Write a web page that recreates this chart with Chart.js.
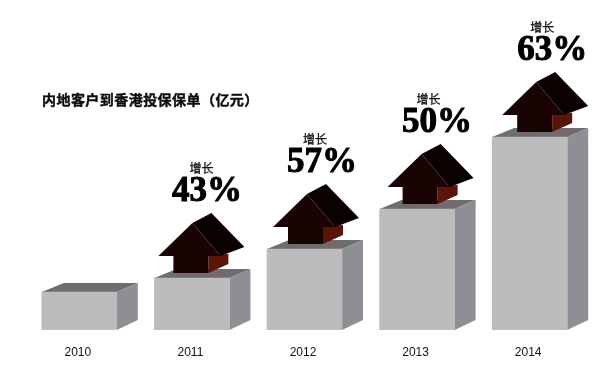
<!DOCTYPE html>
<html>
<head>
<meta charset="utf-8">
<script src="https://cdn.jsdelivr.net/npm/chart.js@4"></script>
<style>
  html, body { margin: 0; background: #fff; }
  canvas { display: block; }
</style>
</head>
<body>
<canvas id="chart" width="600" height="368"></canvas>
<script>
const years = ['2010', '2011', '2012', '2013', '2014'];
const heights = [38, 52, 81, 121, 193];
const growth = [null, '43%', '57%', '50%', '63%'];
const titleText = '内地客户到香港投保保单（亿元）';
const growthWord = '增长';

// offsets are from the front top left corner of a box
let poly = (ctx, color, x, y, pts) => {
    ctx.fillStyle = color;
    ctx.beginPath();
    pts.forEach((p, i) => i ? ctx.lineTo(x + p[0], y + p[1]) : ctx.moveTo(x + p[0], y + p[1]));
    ctx.closePath();
    ctx.fill();
};

let drawHouse = (ctx, x, y) => {
    poly(ctx, '#76686a', x, y, [[19, -4], [56, -4], [72, -9], [72, -2], [12, -1]]);
    poly(ctx, '#5a1408', x, y, [[54, -23], [74, -24], [74, -14], [54, -5]]);
    poly(ctx, '#1a0303', x, y, [[19, -23], [54, -23], [54, -5], [19, -5]]);
    poly(ctx, '#0b0101', x, y, [[38, -55], [57, -65], [90, -31], [66, -22]]);
    poly(ctx, '#1a0303', x, y, [[4, -22], [38, -55], [66, -22], [54, -22]]);
};

const boxPlugin = {
    id: 'boxes',
    beforeDatasetsDraw(chart) {
        const ctx = chart.ctx;
        const bars = chart.getDatasetMeta(0).data;
        const base = chart.scales.y.getPixelForValue(0);
        bars.forEach(bar => {
            const l = bar.x - bar.width / 2;
            const r = bar.x + bar.width / 2;
            poly(ctx, '#6e6e6e', 0, 0, [[l, bar.y], [l + 22, bar.y - 9], [r + 21, bar.y - 9], [r, bar.y]]);
            poly(ctx, '#8e8e95', 0, 0, [[r, bar.y], [r + 21, bar.y - 9], [r + 21, base - 10], [r, base]]);
        });
    },
    afterDatasetsDraw(chart) {
        const ctx = chart.ctx;
        const bars = chart.getDatasetMeta(0).data;
        ctx.save();
        ctx.textBaseline = 'middle';
        ctx.textAlign = 'left';
        ctx.fillStyle = '#0c0c0c';
        ctx.strokeStyle = '#0c0c0c';
        ctx.lineWidth = 0.4;
        ctx.font = 'bold 14px "Noto Sans CJK SC"';
        ctx.letterSpacing = '0.45px';
        ctx.fillText(titleText, 42, 100);
        ctx.strokeText(titleText, 42, 100);
        ctx.letterSpacing = '0px';
        ctx.textAlign = 'center';
        bars.forEach((bar, i) => {
            if (!growth[i]) return;
            const l = bar.x - bar.width / 2;
            drawHouse(ctx, l + 2 * (i - 1), bar.y);
            ctx.fillStyle = '#111';
            ctx.strokeStyle = '#111';
            ctx.lineWidth = 0.3;
            ctx.font = '12px "Noto Sans CJK SC"';
            ctx.fillText(growthWord, l + 46 + i, bar.y - 110);
            ctx.strokeText(growthWord, l + 46 + i, bar.y - 110);
            ctx.fillStyle = '#000';
            ctx.strokeStyle = '#000';
            ctx.lineWidth = 1;
            ctx.font = 'bold 35px "Liberation Serif"';
            ctx.fillText(growth[i], l + 50 + 2.5 * i, bar.y - 86);
            ctx.strokeText(growth[i], l + 50 + 2.5 * i, bar.y - 86);
        });
        ctx.restore();
    }
};

let boxChart = new Chart(document.getElementById('chart').getContext('2d'), {
    type: 'bar',
    data: {
        labels: years,
        datasets: [{
            data: heights,
            backgroundColor: '#bcbcbc',
            barThickness: 75,
        }]
    },
    options: {
        responsive: false,
        animation: false,
        layout: { padding: { left: 23, right: 14, top: 0, bottom: 0 } },
        plugins: {
            legend: { display: false },
            title: { display: false },
            tooltip: { enabled: false }
        },
        scales: {
            y: { display: false, min: 0, max: 330 },
            x: {
                afterFit: scale => { scale.height = 38; },
                grid: { display: false },
                border: { display: false },
                ticks: {
                    color: '#111',
                    padding: 7,
                    labelOffset: -1.5,
                    maxRotation: 0,
                    font: { family: 'Liberation Sans', size: 12 }
                }
            }
        }
    },
    plugins: [boxPlugin]
});
</script>
</body>
</html>
